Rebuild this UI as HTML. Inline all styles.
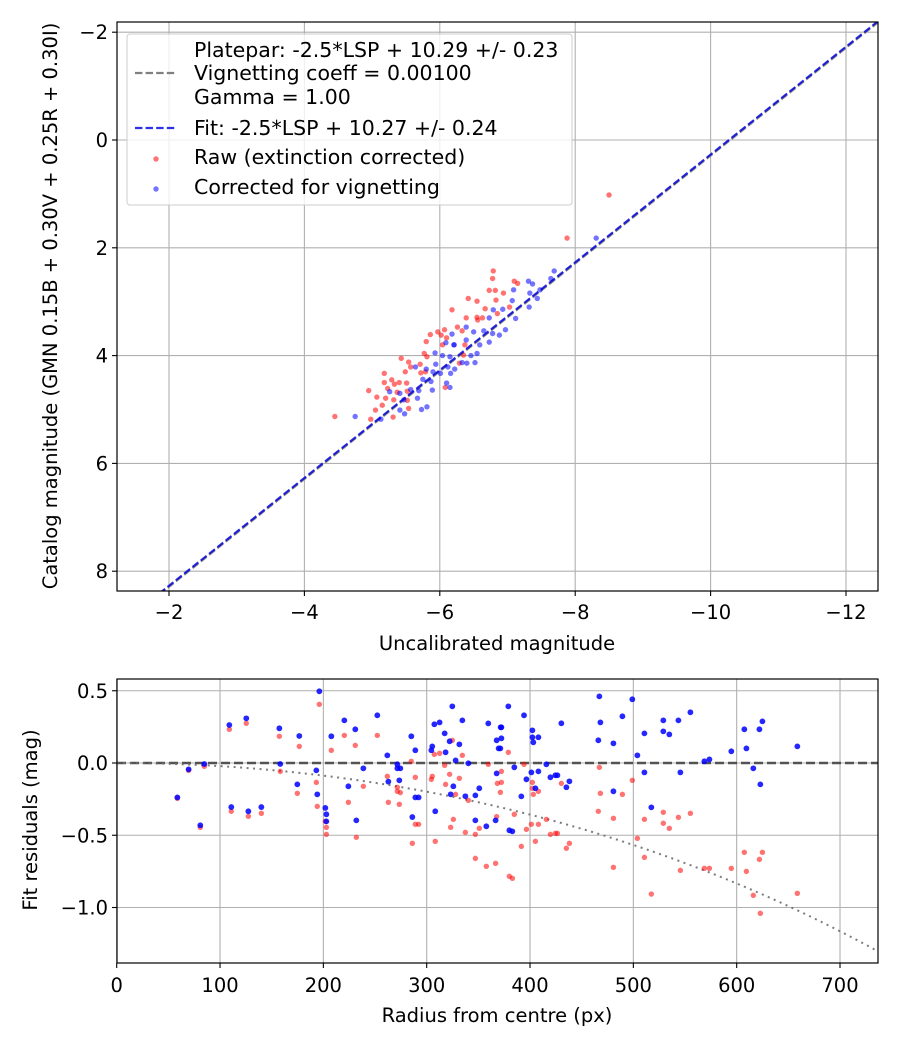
<!DOCTYPE html>
<html><head><meta charset="utf-8"><style>
body{margin:0;background:#fff}
svg text{font-family:"DejaVu Sans","Liberation Sans",sans-serif;font-size:19.5px;fill:#000}
</style></head><body>
<svg id="fig" width="900" height="1050" xmlns="http://www.w3.org/2000/svg"></svg>
<script>
// ---- Top chart data ----
const rawX=[-8.50,-7.88,-6.79,-6.78,-7.10,-7.15,-6.73,-6.82,-6.94,-6.42,-6.55,-6.83,-6.67,-6.18,-7.03,-6.85,-6.39,-6.55,-6.63,-6.56,-6.26,-6.07,-5.97,-5.86,-6.02,-6.33,-5.80,-6.04,-6.37,-5.77,-5.81,-5.43,-5.54,-5.71,-6.29,-5.57,-5.49,-5.72,-5.79,-5.18,-5.29,-5.18,-5.40,-5.51,-5.33,-5.23,-5.37,-5.52,-4.95,-5.07,-5.20,-5.32,-5.15,-5.52,-5.05,-5.54,-5.31,-4.98,-4.45,-6.08,-6.35,-6.10];
const rawY=[1.02,1.82,2.43,2.57,2.62,2.66,2.79,2.79,2.84,2.94,2.99,2.97,3.13,3.15,3.10,3.22,3.30,3.29,3.30,3.34,3.47,3.52,3.56,3.61,3.62,3.54,3.74,3.80,3.80,3.96,4.02,4.05,4.12,4.16,4.14,4.21,4.30,4.32,4.30,4.33,4.45,4.50,4.50,4.51,4.53,4.61,4.68,4.66,4.65,4.77,4.79,4.82,4.92,4.83,5.01,4.98,5.14,5.18,5.13,4.59,3.99,3.67];
const corX=[-8.31,-7.69,-7.64,-7.31,-7.37,-7.48,-7.09,-7.33,-7.44,-7.07,-6.93,-6.79,-7.32,-7.12,-6.73,-6.97,-6.78,-6.65,-6.88,-6.59,-6.73,-6.39,-6.50,-6.18,-6.09,-6.21,-6.39,-6.55,-6.46,-5.93,-6.04,-6.15,-6.33,-6.40,-6.52,-5.94,-6.12,-6.22,-6.16,-6.01,-5.90,-5.80,-5.64,-5.75,-5.87,-6.10,-6.15,-5.89,-5.69,-5.57,-5.41,-5.26,-5.67,-5.47,-5.81,-5.73,-5.41,-5.48,-5.13,-4.75,-6.21];
const corY=[1.82,2.43,2.57,2.62,2.67,2.78,2.78,2.84,2.94,2.98,3.14,3.15,3.10,3.31,3.30,3.52,3.59,3.54,3.62,3.80,3.75,3.47,3.56,3.60,3.76,3.80,3.71,3.96,4.00,3.95,4.00,4.02,4.13,4.14,4.13,4.16,4.21,4.25,4.33,4.33,4.30,4.25,4.21,4.44,4.48,4.51,4.59,4.64,4.65,4.63,4.70,4.67,4.79,4.82,4.95,5.00,5.01,5.08,5.18,5.13,3.80];
const fitZP=10.27, plateZP=10.29;
const topXTicks=[-2,-4,-6,-8,-10,-12];
const topYTicks=[-2,0,2,4,6,8];
// ---- Bottom chart data ----
const resRawR=[58.7,69.6,84.8,80.9,109,125.4,110.9,127.4,140,157.4,158.3,176.7,174.8,196.1,193.2,194.1,201.9,202.9,202.9,207.7,220.3,230.9,224.2,231.9,238.7,252.2,261.9,262.9,271.6,271.6,274.5,273.5,285.1,289,286.1,289,292.2,305.4,304.5,307.4,312.5,308.3,317.4,318.3,322.2,324.8,325.8,323.2,328,331.6,334.5,340.3,337.4,347.1,350.9,347.1,357.7,359.6,366.7,367.7,379,372.3,368.4,372.3,371.3,384.8,391.6,380,382.9,394.2,402.3,402.3,403.2,408.1,401.3,408.1,396.5,405.2,415.8,419.7,424.5,426.5,430.3,435.2,438.1,467.1,468.1,466.1,480.7,480.7,489.4,499,503.9,510.7,510.7,517.4,529,529,534.8,543.6,545.5,555.2,568.7,573.6,594.8,607.4,609.4,616.1,622,624.9,622.9,658.7];
const resRawV=[-0.245,-0.051,-0.023,-0.445,0.233,0.275,-0.334,-0.369,-0.348,0.185,-0.058,0.115,-0.210,0.406,-0.134,-0.300,-0.404,-0.445,-0.494,0.088,0.191,0.122,-0.272,-0.514,-0.161,0.191,-0.092,-0.272,-0.168,-0.196,-0.205,-0.286,0.012,-0.099,-0.556,-0.424,-0.424,-0.092,-0.113,0.060,0.067,-0.542,-0.016,-0.148,-0.078,0.157,-0.390,-0.445,-0.217,-0.106,0.053,-0.258,-0.480,-0.494,-0.452,-0.660,-0.715,-0.009,-0.694,-0.371,0.074,-0.058,-0.141,-0.134,-0.203,-0.355,-0.577,-0.784,-0.798,-0.009,-0.134,-0.175,-0.217,-0.196,-0.424,-0.424,-0.459,-0.542,-0.390,-0.494,-0.487,-0.487,-0.141,-0.590,-0.556,-0.030,-0.210,-0.334,-0.383,-0.722,-0.217,-0.120,-0.521,-0.390,-0.653,-0.907,-0.341,-0.417,-0.452,-0.376,-0.743,-0.348,-0.729,-0.729,-0.729,-0.618,-0.750,-0.916,-0.667,-0.618,-1.040,-0.902];
const resCorR=[58.7,69.6,84.8,80.9,109,125.4,110.9,127.4,140,157.4,158.3,176.7,174.8,196.1,193.2,194.1,201.9,202.9,202.9,207.7,220.3,230.9,224.2,231.9,238.7,252.2,261.9,262.9,271.6,271.6,274.5,273.5,285.1,289,286.1,289,292.2,305.4,304.5,307.4,312.5,308.3,317.4,318.3,322.2,324.8,325.8,323.2,328,331.6,334.5,340.3,337.4,347.1,350.9,347.1,357.7,359.6,366.7,367.7,369.6,367.7,371.6,379,372.3,372.3,371.3,394.2,384.8,391.6,380,382.9,402.3,402.3,403.2,408.1,401.3,408.1,396.5,405.2,415.8,419.7,424.5,426.5,430.3,435.2,438.1,467.1,468.1,466.1,480.7,480.7,489.4,499,503.9,510.7,510.7,517.4,529,529,534.8,543.6,545.5,555.2,568.7,573.6,594.8,607.4,609.4,616.1,622,624.9,622.9,658.7];
const resCorV=[-0.238,-0.044,-0.007,-0.431,0.263,0.309,-0.305,-0.334,-0.305,0.240,-0.007,0.187,-0.148,0.496,-0.051,-0.217,-0.311,-0.355,-0.404,0.185,0.295,0.233,-0.161,-0.397,-0.037,0.330,0.053,-0.129,-0.009,-0.037,-0.037,-0.120,0.185,0.088,-0.374,-0.238,-0.238,0.115,0.088,0.268,0.281,-0.334,0.205,0.074,0.150,0.392,-0.161,-0.217,0.018,0.129,0.295,-0.002,-0.230,-0.224,-0.175,-0.397,-0.438,0.274,-0.397,0.157,0.101,-0.072,0.247,0.392,0.247,0.171,0.101,0.330,-0.030,-0.231,-0.466,-0.473,0.226,0.178,0.143,0.178,-0.065,-0.058,-0.113,-0.175,-0.009,-0.099,-0.085,-0.085,0.275,-0.168,-0.127,0.461,0.281,0.157,0.136,-0.196,0.323,0.441,0.053,0.205,-0.065,-0.307,0.295,0.219,0.198,0.295,-0.065,0.351,0.012,0.025,0.081,0.233,0.101,-0.037,0.233,0.288,-0.148,0.115];
const vigCoeff=0.001;
const botXTicks=[0,100,200,300,400,500,600,700];
const botYTicks=[0.5,0.0,-0.5,-1.0];

const NS='http://www.w3.org/2000/svg';
const svg=document.getElementById('fig');
function mk(tag,attrs,parent){const e=document.createElementNS(NS,tag);for(const k in attrs)e.setAttribute(k,attrs[k]);(parent||svg).appendChild(e);return e;}
function fmt(v){return (v<0?'\u2212':'')+Math.abs(v);}

// ---- Top axes ----
const T={l:117,r:878,t:22,b:591};
const tx=v=>169+(-2-v)*67.7;
const ty=v=>140+v*53.9;
const gTop=mk('g',{});


mk('defs',{}).innerHTML='<clipPath id="cTop"><rect x="117" y="22" width="761" height="569"/></clipPath><clipPath id="cBot"><rect x="117" y="679" width="761" height="284"/></clipPath>';
topXTicks.forEach(v=>{const x=tx(v);
 const g=mk('line',{x1:x,x2:x,y1:T.t,y2:T.b,stroke:'#b0b0b0','stroke-width':1.1},gTop);
 
 mk('line',{x1:x,x2:x,y1:T.b,y2:T.b+5,stroke:'#000','stroke-width':1.1},gTop);
 const t=mk('text',{x:x,y:T.b+28,'text-anchor':'middle'},gTop);t.textContent=fmt(v);
 });
topYTicks.forEach(v=>{const y=ty(v);
 const g=mk('line',{x1:T.l,x2:T.r,y1:y,y2:y,stroke:'#b0b0b0','stroke-width':1.1},gTop);
 
 mk('line',{x1:T.l-5,x2:T.l,y1:y,y2:y,stroke:'#000','stroke-width':1.1},gTop);
 const t=mk('text',{x:T.l-9,y:y+7,'text-anchor':'end'},gTop);t.textContent=fmt(v);
 });
const cTop=mk('g',{'clip-path':'url(#cTop)'},gTop);
function lineFit(zp,col,name){const x1=-1,x2=-13;
 const l=mk('line',{x1:tx(x1),y1:ty(x1+zp),x2:tx(x2),y2:ty(x2+zp),stroke:col,'stroke-width':2.2,'stroke-dasharray':'7.4,3.2'},cTop);
 }
lineFit(plateZP,'rgba(128,128,128,0.9)','platepar-line');
rawX.forEach((v,i)=>{const c=mk('circle',{cx:tx(v),cy:ty(rawY[i]),r:2.7,fill:'rgba(255,0,0,0.55)'},cTop);
 });
corX.forEach((v,i)=>{const c=mk('circle',{cx:tx(v),cy:ty(corY[i]),r:2.7,fill:'rgba(0,0,255,0.55)'},cTop);
 });
lineFit(fitZP,'rgba(0,0,220,0.82)','fit-line');
const fr=mk('rect',{x:T.l,y:T.t,width:T.r-T.l,height:T.b-T.t,fill:'none',stroke:'#000','stroke-width':1.2},gTop);

let t=mk('text',{x:497,y:650,'text-anchor':'middle'},gTop);t.textContent='Uncalibrated magnitude';

t=mk('text',{x:0,y:0,'text-anchor':'middle',transform:'translate(57,306) rotate(-90)'},gTop);t.textContent='Catalog magnitude (GMN 0.15B + 0.30V + 0.25R + 0.30I)';


// legend
const lg=mk('g',{});

mk('rect',{x:127,y:34,width:445,height:171,rx:3,fill:'rgba(255,255,255,0.8)',stroke:'#ccc','stroke-width':1},lg);
mk('line',{x1:135,x2:177,y1:73,y2:73,stroke:'#808080','stroke-width':2.2,'stroke-dasharray':'7.4,3.2'},lg);
mk('line',{x1:135,x2:177,y1:128,y2:128,stroke:'rgba(0,0,220,0.82)','stroke-width':2.2,'stroke-dasharray':'7.4,3.2'},lg);
mk('circle',{cx:156,cy:159,r:2.7,fill:'rgba(255,0,0,0.55)'},lg);
mk('circle',{cx:156,cy:189,r:2.7,fill:'rgba(0,0,255,0.55)'},lg);
[['Platepar: -2.5*LSP + 10.29 +/- 0.23',57,'legend-platepar'],['Vignetting coeff = 0.00100',80,'legend-vignetting'],['Gamma = 1.00',104,'legend-gamma'],['Fit: -2.5*LSP + 10.27 +/- 0.24',135,'legend-fit'],['Raw (extinction corrected)',164,'legend-raw'],['Corrected for vignetting',194,'legend-corrected']].forEach(a=>{
 const e=mk('text',{x:194,y:a[1],style:'font-size:20.5px'},lg);e.textContent=a[0];
 });

// ---- Bottom axes ----
const B={l:117,r:878,t:679,b:963};
const bx=v=>116.7+v*1.0333;
const by=v=>763-v*144.5;
const gBot=mk('g',{});


botXTicks.forEach(v=>{const x=bx(v);
 const g=mk('line',{x1:x,x2:x,y1:B.t,y2:B.b,stroke:'#b0b0b0','stroke-width':1.1},gBot);
 
 mk('line',{x1:x,x2:x,y1:B.b,y2:B.b+5,stroke:'#000','stroke-width':1.1},gBot);
 const e=mk('text',{x:x,y:B.b+29,'text-anchor':'middle'},gBot);e.textContent=v;
 });
botYTicks.forEach(v=>{const y=by(v);
 const g=mk('line',{x1:B.l,x2:B.r,y1:y,y2:y,stroke:'#b0b0b0','stroke-width':1.1},gBot);
 
 mk('line',{x1:B.l-5,x2:B.l,y1:y,y2:y,stroke:'#000','stroke-width':1.1},gBot);
 const e=mk('text',{x:B.l-9,y:y+7,'text-anchor':'end'},gBot);e.textContent=(v<0?'\u2212':'')+Math.abs(v).toFixed(1);
 });
const cBot=mk('g',{'clip-path':'url(#cBot)'},gBot);
let zl=mk('line',{x1:B.l,x2:B.r,y1:by(0),y2:by(0),stroke:'rgba(60,60,60,0.85)','stroke-width':2.4,'stroke-dasharray':'9,4'},cBot);

let pts=[];for(let r=0;r<=740;r+=5){pts.push(bx(r)+','+by(10*Math.log10(Math.cos(vigCoeff*r))));}
const vc=mk('polyline',{points:pts.join(' '),fill:'none',stroke:'rgba(110,110,110,0.9)','stroke-width':2,'stroke-dasharray':'2,4.5'},cBot);

resRawR.forEach((v,i)=>{const c=mk('circle',{cx:bx(v),cy:by(resRawV[i]),r:2.7,fill:'rgba(255,0,0,0.55)'},cBot);
 });
resCorR.forEach((v,i)=>{const c=mk('circle',{cx:bx(v),cy:by(resCorV[i]),r:2.9,fill:'rgba(0,0,255,0.85)'},cBot);
 });
const fb=mk('rect',{x:B.l,y:B.t,width:B.r-B.l,height:B.b-B.t,fill:'none',stroke:'#000','stroke-width':1.2},gBot);

t=mk('text',{x:497,y:1022,'text-anchor':'middle'},gBot);t.textContent='Radius from centre (px)';

t=mk('text',{x:0,y:0,'text-anchor':'middle',transform:'translate(37,820) rotate(-90)'},gBot);t.textContent='Fit residuals (mag)';

</script>
</body></html>
